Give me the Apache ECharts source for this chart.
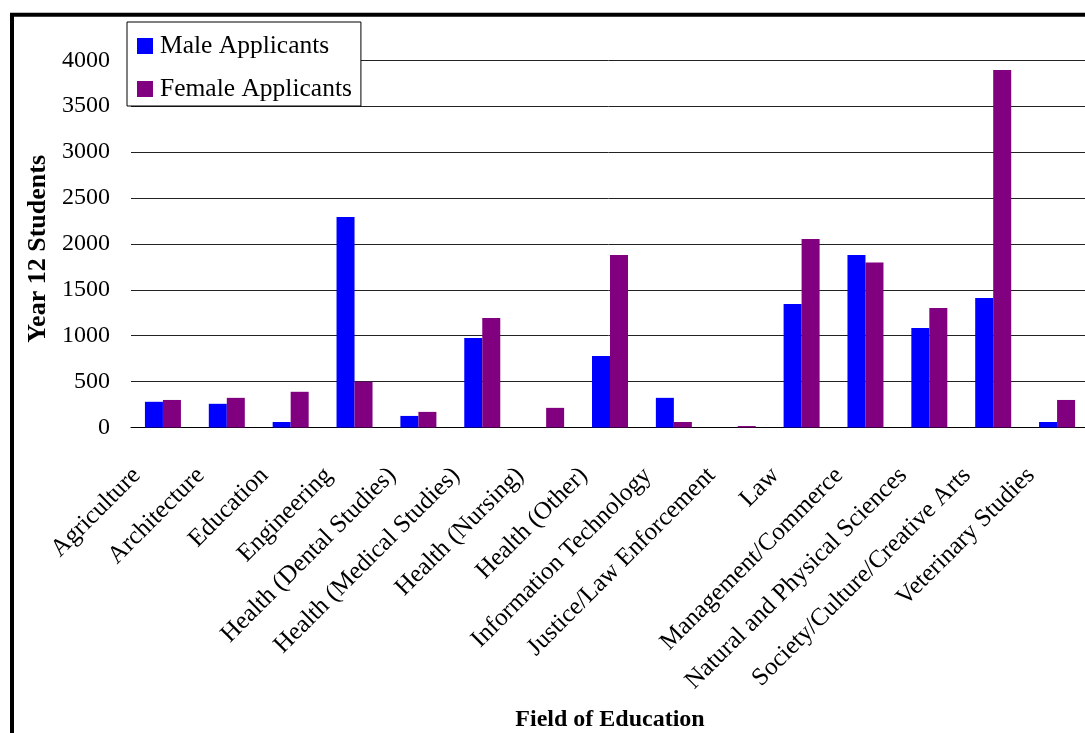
<!DOCTYPE html>
<html>
<head>
<meta charset="utf-8">
<script src="https://cdn.jsdelivr.net/npm/echarts@6/dist/echarts.min.js"></script>
<style>
  html, body { margin: 0; padding: 0; background: #fff; }
  #chart { width: 1085px; height: 733px; }
</style>
</head>
<body>
<div id="chart"></div>
<script>
// data
const fields = ['Agriculture', 'Architecture', 'Education', 'Engineering',
  'Health (Dental Studies)', 'Health (Medical Studies)', 'Health (Nursing)',
  'Health (Other)', 'Information Technology', 'Justice/Law Enforcement', 'Law',
  'Management/Commerce', 'Natural and Physical Sciences',
  'Society/Culture/Creative Arts', 'Veterinary Studies'];
const male = [280, 258, 60, 2293, 126, 975, 0, 779, 323, 0, 1345, 1879, 1084, 1411, 60];
const female = [300, 323, 389, 499, 170, 1193, 214, 1879, 60, 16, 2053, 1797, 1302, 3894, 300];
const yTicks = { min: 0, max: 4000, step: 500 };

const serif = '"Liberation Serif", "Times New Roman", serif';

const chart = echarts.init(document.getElementById('chart'));
chart.setOption({
  backgroundColor: '#fff',
  animation: false,
  graphic: [{
    type: 'rect',
    shape: { x: 12, y: 14.7, width: 1200, height: 1000 },
    style: { fill: 'none', stroke: '#000', lineWidth: 4 },
    z: 100
  }],
  grid: { left: 131, top: 60.3, width: 958, height: 367.2, outerBoundsMode: 'none', containLabel: false },
  legend: {
    orient: 'vertical',
    left: 127,
    top: 22,
    padding: [11, 9, 4, 10],
    itemWidth: 16,
    itemHeight: 16,
    itemGap: 17,
    icon: 'rect',
    borderColor: '#000',
    borderWidth: 1,
    backgroundColor: '#fff',
    z: 10,
    textStyle: { fontFamily: serif, fontSize: 25.5, color: '#000', padding: [0, 0, 0, 2] },
    data: ['Male Applicants', 'Female Applicants']
  },
  xAxis: {
    type: 'category',
    data: fields,
    name: 'Field of Education',
    nameLocation: 'middle',
    nameGap: 280,
    nameTextStyle: { fontFamily: serif, fontSize: 24, fontWeight: 'bold', color: '#000' },
    axisLine: { lineStyle: { color: '#000', width: 1 } },
    axisTick: { length: 8, lineStyle: { color: '#000' } },
    axisLabel: {
      interval: 0,
      rotate: 45,
      margin: 18,
      padding: [0, 37, 0, 0],
      fontFamily: serif,
      fontSize: 25,
      color: '#000'
    }
  },
  yAxis: {
    type: 'value',
    min: yTicks.min,
    max: yTicks.max,
    interval: yTicks.step,
    name: 'Year 12 Students',
    nameLocation: 'middle',
    nameRotate: 90,
    nameGap: 73,
    nameTextStyle: { fontFamily: serif, fontSize: 26, fontWeight: 'bold', color: '#000', padding: [0, 10, 0, 0] },
    axisLine: { show: false },
    axisTick: { show: false },
    axisLabel: { margin: 21, fontFamily: serif, fontSize: 24, color: '#000', formatter: v => String(v) },
    splitLine: { lineStyle: { color: '#222', width: 1 } }
  },
  series: [
    {
      name: 'Male Applicants',
      type: 'bar',
      data: male,
      barWidth: 18,
      barGap: '0%',
      itemStyle: { color: '#0000ff' }
    },
    {
      name: 'Female Applicants',
      type: 'bar',
      data: female,
      barWidth: 18,
      itemStyle: { color: '#800080' }
    }
  ]
});
</script>
</body>
</html>
